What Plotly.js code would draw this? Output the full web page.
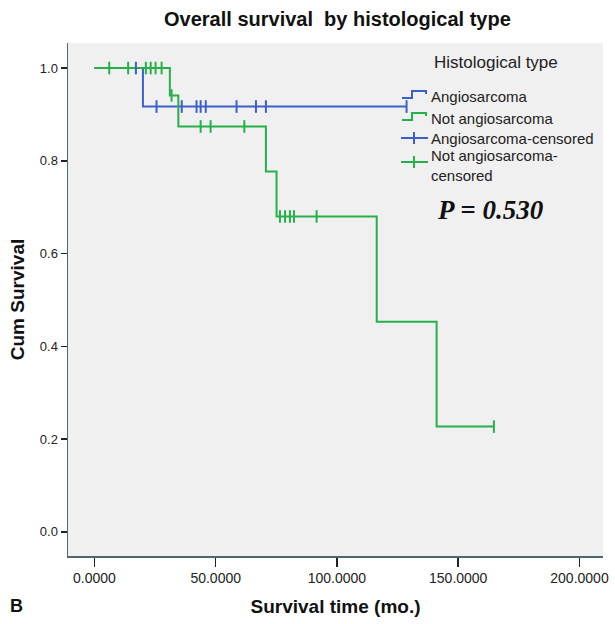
<!DOCTYPE html>
<html>
<head>
<meta charset="utf-8">
<script src="https://cdn.plot.ly/plotly-3.0.1.min.js"></script>
<style>
  html, body { margin: 0; padding: 0; background: #ffffff; }
  #chart { width: 615px; height: 624px; }
</style>
</head>
<body>
<div id="chart"></div>
<script>
// ---- Data ----
// Angiosarcoma: step curve (event times and survival after each step)
const angioTimes = [0, 20.0, 128.7];
const angioSurv  = [1.0, 0.917, 0.917];
const angioCensorTimes = [17.1, 25.6, 36.0, 42.1, 43.8, 45.9, 58.6, 66.6, 70.7, 128.7];

// Not angiosarcoma
const notAngioTimes = [0, 31.1, 34.6, 70.7, 75.1, 116.4, 141.1, 164.7];
const notAngioSurv  = [1.0, 0.941, 0.874, 0.777, 0.680, 0.453, 0.227, 0.227];
const notAngioCensorTimes = [6.1, 13.9, 21.2, 23.2, 25.2, 27.7, 31.8, 43.8, 47.9, 61.8, 76.5, 78.6, 80.6, 82.3, 91.6, 164.7];

const xTickVals = [0, 50, 100, 150, 200];
const yTickVals = [0, 0.2, 0.4, 0.6, 0.8, 1.0];

const legendLabels = ["Angiosarcoma", "Not angiosarcoma", "Angiosarcoma-censored", "Not angiosarcoma-<br>censored"];
const pText = "P = 0.530";

// ---- Styling ----
const BLUE = "#3d5fc8";
const GREEN = "#27b04a";
const FONT = "Liberation Sans, Arial, sans-serif";

function survAt(times, surv, t) {
  let s = surv[0];
  for (let i = 0; i < times.length; i++) { if (times[i] <= t) s = surv[i]; }
  return s;
}

const traces = [
  { x: angioTimes, y: angioSurv, type: "scatter", mode: "lines",
    line: { shape: "hv", color: BLUE, width: 2 }, hoverinfo: "skip" },
  { x: notAngioTimes, y: notAngioSurv, type: "scatter", mode: "lines",
    line: { shape: "hv", color: GREEN, width: 2 }, hoverinfo: "skip" },
  { x: angioCensorTimes, y: angioCensorTimes.map(t => survAt(angioTimes, angioSurv, t)),
    type: "scatter", mode: "markers",
    marker: { symbol: "line-ns-open", size: 9, color: BLUE, line: { color: BLUE, width: 2 } } },
  { x: notAngioCensorTimes, y: notAngioCensorTimes.map(t => survAt(notAngioTimes, notAngioSurv, t)),
    type: "scatter", mode: "markers",
    marker: { symbol: "line-ns-open", size: 9, color: GREEN, line: { color: GREEN, width: 2 } } }
];

// plot area in pixels: left 68, right 603, top 43, bottom 556
const PL = 68, PR = 603, PT = 43, PB = 556;
const px = v => (v - PL) / (PR - PL);
const py = v => (PB - v) / (PB - PT);

const legendY = [96, 118, 138, 165];
const annotations = [
  { text: "Overall survival  by histological type", xref: "paper", yref: "paper",
    x: px(337), y: py(19), xanchor: "center", yanchor: "middle", showarrow: false,
    font: { family: FONT, size: 20, color: "#111111", weight: "bold" } },
  { text: "Histological type", xref: "paper", yref: "paper",
    x: px(496), y: py(62), xanchor: "center", yanchor: "middle", showarrow: false,
    font: { family: FONT, size: 17, color: "#222222" } },
  { text: "B", xref: "paper", yref: "paper",
    x: px(8), y: py(606), xanchor: "left", yanchor: "middle", showarrow: false,
    font: { family: FONT, size: 18, color: "#111111", weight: "bold" } },
  { text: pText, xref: "paper", yref: "paper",
    x: px(490), y: py(210), xanchor: "center", yanchor: "middle", showarrow: false,
    font: { family: "Liberation Serif, Times New Roman, serif", size: 27, color: "#111111", weight: "bold", style: "italic" } }
];
legendLabels.forEach((lab, i) => {
  annotations.push({ text: lab, xref: "paper", yref: "paper",
    x: px(429), y: py(legendY[i]), xanchor: "left", yanchor: "middle", align: "left",
    showarrow: false, font: { family: FONT, size: 15, color: "#222222" } });
});

function P(xpix, ypix) { return px(xpix).toFixed(5) + "," + py(ypix).toFixed(5); }
const shapes = [
  { type: "path", xref: "paper", yref: "paper", line: { color: BLUE, width: 2 },
    path: "M " + P(402, 98) + " L " + P(412, 98) + " L " + P(412, 91) + " L " + P(426, 91) + " L " + P(426, 94) },
  { type: "path", xref: "paper", yref: "paper", line: { color: GREEN, width: 2 },
    path: "M " + P(402, 120) + " L " + P(412, 120) + " L " + P(412, 113) + " L " + P(426, 113) + " L " + P(426, 116) },
  { type: "path", xref: "paper", yref: "paper", line: { color: BLUE, width: 2 },
    path: "M " + P(401, 138) + " L " + P(428, 138) + " M " + P(414, 132) + " L " + P(414, 144) },
  { type: "path", xref: "paper", yref: "paper", line: { color: GREEN, width: 2 },
    path: "M " + P(401, 162) + " L " + P(428, 162) + " M " + P(414, 156) + " L " + P(414, 168) }
];

const layout = {
  width: 615, height: 624,
  margin: { l: PL, r: 615 - PR, t: PT, b: 624 - PB, pad: 0 },
  paper_bgcolor: "#ffffff",
  plot_bgcolor: "#f0f0f0",
  showlegend: false,
  font: { family: FONT, color: "#222222" },
  xaxis: {
    range: [-10.9, 209.7], tickvals: xTickVals, tickformat: ".4f",
    showgrid: false, zeroline: false, showline: true, linecolor: "#4d6672", linewidth: 1.5,
    ticks: "outside", ticklen: 9, tickwidth: 1.5, tickcolor: "#222222",
    tickfont: { family: FONT, size: 14, color: "#222222" },
    title: { text: "Survival time (mo.)", standoff: 14, font: { family: FONT, size: 19, color: "#111111", weight: "bold" } }
  },
  yaxis: {
    range: [-0.052, 1.054], tickvals: yTickVals, tickformat: ".1f",
    showgrid: false, zeroline: false, showline: true, linecolor: "#4d6672", linewidth: 1.5,
    ticks: "outside", ticklen: 6, tickwidth: 1.5, tickcolor: "#222222",
    tickfont: { family: FONT, size: 13, color: "#222222" },
    title: { text: "Cum Survival", standoff: 10, font: { family: FONT, size: 19, color: "#111111", weight: "bold" } }
  },
  annotations: annotations,
  shapes: shapes
};

Plotly.newPlot("chart", traces, layout, { displayModeBar: false, staticPlot: true });
</script>
</body>
</html>
